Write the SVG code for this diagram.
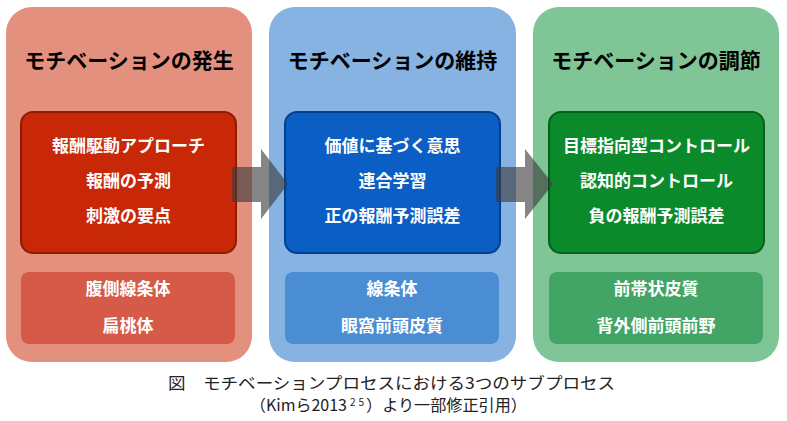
<svg xmlns="http://www.w3.org/2000/svg" width="787" height="421" viewBox="0 0 787 421">
<style>
.t{font-family:"Noto Sans CJK JP","Noto Sans",sans-serif;font-weight:bold;text-anchor:middle}
.h{font-size:21px;fill:#000}
.i{font-size:17px;fill:#fff}
.l{font-size:17px;fill:#fff}
.c{font-family:"Noto Sans CJK JP","Noto Sans",sans-serif;font-size:16px;fill:#222}
.sup{font-family:"Noto Sans CJK JP","Noto Sans",sans-serif;font-size:10px;fill:#222;letter-spacing:3px}
.arrow{fill:#3a3a3a;fill-opacity:0.62}
</style>
<rect width="787" height="421" fill="#fff"/>
<g id="stage1">
<rect x="6" y="7" width="246" height="355" rx="26" fill="#E3907F"/>
<text class="t h" x="129" y="68">モチベーションの発生</text>
<rect x="21" y="112" width="215" height="141" rx="12" fill="#C82808" stroke="#8E1C05" stroke-width="2"/>
<text class="t i" x="128.5" y="152">報酬駆動アプローチ</text>
<text class="t i" x="128.5" y="187">報酬の予測</text>
<text class="t i" x="128.5" y="222">刺激の要点</text>
<rect x="21" y="272" width="214" height="72" rx="8" fill="#D55A47"/>
<text class="t l" x="128" y="295">腹側線条体</text>
<text class="t l" x="128" y="332">扁桃体</text>
</g>
<g id="stage2">
<rect x="269" y="7" width="247" height="355" rx="26" fill="#86B3E1"/>
<text class="t h" x="392.5" y="68">モチベーションの維持</text>
<rect x="285" y="112" width="215" height="141" rx="12" fill="#0A5EC4" stroke="#063F8C" stroke-width="2"/>
<text class="t i" x="392.5" y="152">価値に基づく意思</text>
<text class="t i" x="392.5" y="187">連合学習</text>
<text class="t i" x="392.5" y="222">正の報酬予測誤差</text>
<rect x="285" y="272" width="214" height="72" rx="8" fill="#4A8DD3"/>
<text class="t l" x="392" y="295">線条体</text>
<text class="t l" x="392" y="332">眼窩前頭皮質</text>
</g>
<g id="stage3">
<rect x="533" y="7" width="246" height="355" rx="26" fill="#80C596"/>
<text class="t h" x="656" y="68">モチベーションの調節</text>
<rect x="549" y="112" width="215" height="141" rx="12" fill="#0B8A2C" stroke="#06611C" stroke-width="2"/>
<text class="t i" x="656.5" y="152">目標指向型コントロール</text>
<text class="t i" x="656.5" y="187">認知的コントロール</text>
<text class="t i" x="656.5" y="222">負の報酬予測誤差</text>
<rect x="549" y="272" width="214" height="72" rx="8" fill="#43A565"/>
<text class="t l" x="656" y="295">前帯状皮質</text>
<text class="t l" x="656" y="332">背外側前頭前野</text>
</g>
<g id="connectors">
<polygon class="arrow" points="232,167 261,167 261,149 288,184 261,219 261,202 232,202"/>
<polygon class="arrow" points="496,167 525,167 525,149 553,184 525,219 525,202 496,202"/>
</g>
<g id="caption">
<text class="c" x="168" y="389" textLength="447" lengthAdjust="spacingAndGlyphs">図　モチベーションプロセスにおける3つのサブプロセス</text>
<text class="c" x="347" y="411" text-anchor="end">（Kimら2013</text>
<text class="sup" x="350" y="406">25</text>
<text class="c" x="366" y="411" textLength="161" lengthAdjust="spacingAndGlyphs">）より一部修正引用）</text>
</g>
</svg>
